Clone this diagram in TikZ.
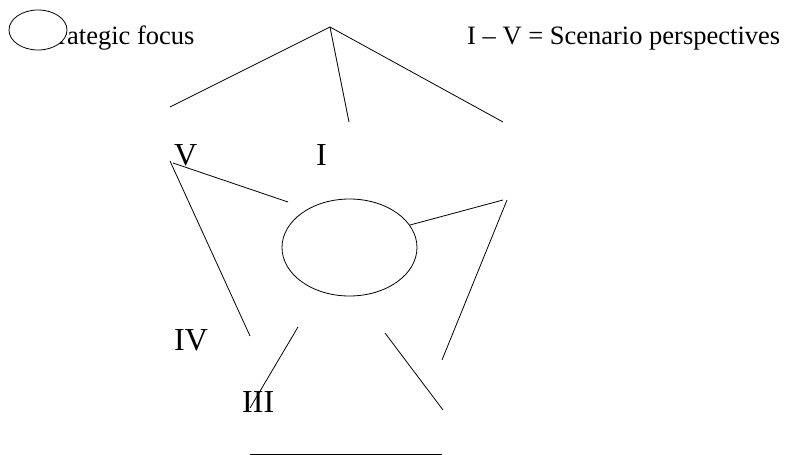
\documentclass[tikz,border=0pt]{standalone}
\usepackage{fontspec}
\setmainfont{Liberation Serif}
\usetikzlibrary{shapes.geometric}
\begin{document}
\begin{tikzpicture}[x=1pt,y=-1pt,
  ln/.style={draw=black,line width=0.8pt},
  oval/.style={ellipse,draw=black,line width=0.8pt,fill=white,inner sep=0pt},
  lbl/.style={inner sep=0pt,anchor=base west,font=\fontsize{26.5}{30}\selectfont},
  num/.style={inner sep=0pt,anchor=base west,font=\fontsize{32}{36}\selectfont}]
\useasboundingbox (0,0) rectangle (785,455);
% texts
\node[lbl] (sf) at (36,45) {Strategic focus};
\node[lbl] (leg) at (467,45) {I -- V = Scenario perspectives};
\node[num] (nV) at (174,165) {V};
\node[num] (nI) at (316,165) {I};
\node[num] (nIV) at (174,350) {IV};
\node[num] (nIII) at (242,412) {III};
% ellipses
\node[oval,minimum width=58pt,minimum height=40pt] (small) at (38,30) {};
\node[oval,minimum width=135pt,minimum height=97pt] (big) at (349.5,247.5) {};
% coordinates
\coordinate (apex) at (330,27);
\coordinate (tl) at (170,107);
\coordinate (tm) at (349,122);
\coordinate (tr) at (503,122);
\coordinate (v1) at (173,163);
\coordinate (v2) at (288,202);
\coordinate (l1) at (170,161);
\coordinate (l2) at (250,336);
\coordinate (r1) at (410,225);
\coordinate (r2) at (503,200);
\coordinate (rr1) at (507,200);
\coordinate (rr2) at (442,360);
\coordinate (a1) at (298,327);
\coordinate (a2) at (250,408);
\coordinate (b1) at (385,333);
\coordinate (b2) at (443,410);
\coordinate (h1) at (250,454);
\coordinate (h2) at (442,454);
% lines
\draw[ln] (tl) -- (apex) -- (tr);
\draw[ln] (apex) -- (tm);
\draw[ln] (v1) -- (v2);
\draw[ln] (l1) -- (l2);
\draw[ln] (r1) -- (r2);
\draw[ln] (rr1) -- (rr2);
\draw[ln] (a1) -- (a2);
\draw[ln] (b1) -- (b2);
\draw[ln] (h1) -- (h2);
\end{tikzpicture}
\end{document}
